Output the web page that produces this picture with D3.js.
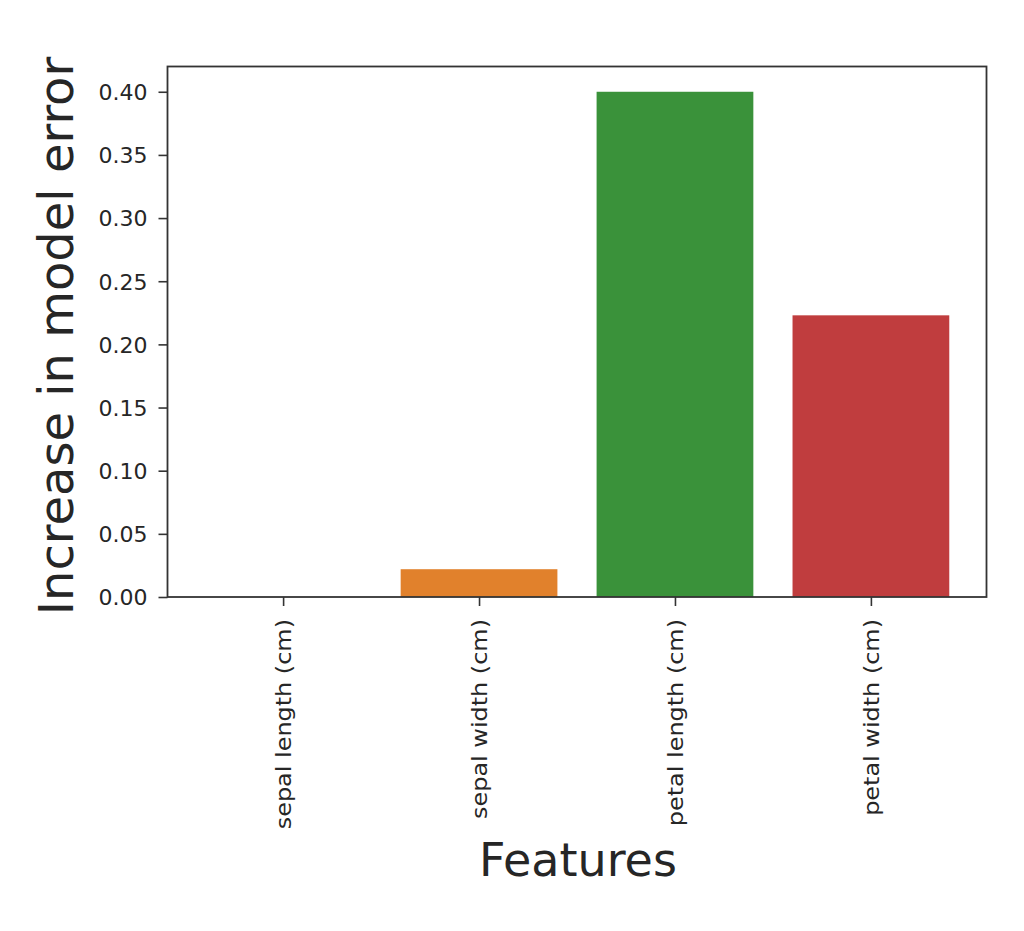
<!DOCTYPE html>
<html><head><meta charset="utf-8">
<script src="https://cdn.jsdelivr.net/npm/d3@7"></script>
<style>body{margin:0;background:#fff}svg{display:block}text{font-family:"DejaVu Sans",sans-serif;fill:#262626}</style>
</head><body><svg id="c" width="1024" height="931"></svg>
<script>
const categories = ["sepal length (cm)", "sepal width (cm)", "petal length (cm)", "petal width (cm)"];
const values = [0.0, 0.022, 0.400, 0.223];
const colors = ["#3274a1", "#e1812c", "#3a923a", "#c03d3e"];
const yTicks = [0.00, 0.05, 0.10, 0.15, 0.20, 0.25, 0.30, 0.35, 0.40];
const xTitle = "Features", yTitle = "Increase in model error";

const svg = d3.select("#c");
const L = 167.5, R = 986.5, T = 66.5, B = 597;
const x = d3.scaleLinear().domain([-0.59, categories.length - 1 + 0.59]).range([L, R]);
const y = d3.scaleLinear().domain([0, 0.42]).range([B, T]);
const bw = x(0.8) - x(0);

svg.selectAll("rect.bar").data(values).join("rect").attr("class","bar")
  .attr("x", (d,i) => x(i) - bw/2).attr("width", bw)
  .attr("y", d => y(d)).attr("height", d => B - y(d))
  .attr("fill", (d,i) => colors[i]);

const yAxis = d3.axisLeft(y).tickValues(yTicks).tickFormat(d3.format(".2f")).tickSize(9).tickPadding(11);
const gy = svg.append("g").attr("transform", `translate(${L},0)`).call(yAxis);
gy.select(".domain").remove();
gy.selectAll("line").attr("stroke","#333").attr("stroke-width",1.6);
gy.selectAll("text").attr("font-size","22px").style("font-family","DejaVu Sans").attr("fill","#262626")
  .attr("dy","0.36em");

const xAxis = d3.axisBottom(x).tickValues(d3.range(categories.length)).tickFormat(i => categories[i]).tickSize(9);
const gx = svg.append("g").attr("transform", `translate(0,${B})`).call(xAxis);
gx.select(".domain").remove();
gx.selectAll("line").attr("stroke","#333").attr("stroke-width",1.6);
gx.selectAll("text").attr("font-size","21px").attr("fill","#262626")
  .attr("transform","translate(0,22) rotate(-90) scale(1.14,1)").attr("text-anchor","end")
  .attr("x", 0).attr("y", 0).attr("dy","0.35em");

svg.append("rect").attr("x",L).attr("y",T).attr("width",R-L).attr("height",B-T)
  .attr("fill","none").attr("stroke","#333").attr("stroke-width",1.8);

svg.append("text").attr("x",578).attr("y",876).attr("text-anchor","middle")
  .attr("font-size","46px").attr("fill","#1a1a1a").text(xTitle);
svg.append("text").attr("transform",`translate(73,336) rotate(-90)`).attr("text-anchor","middle")
  .attr("font-size","48px").attr("fill","#1a1a1a").text(yTitle);
</script></body></html>
